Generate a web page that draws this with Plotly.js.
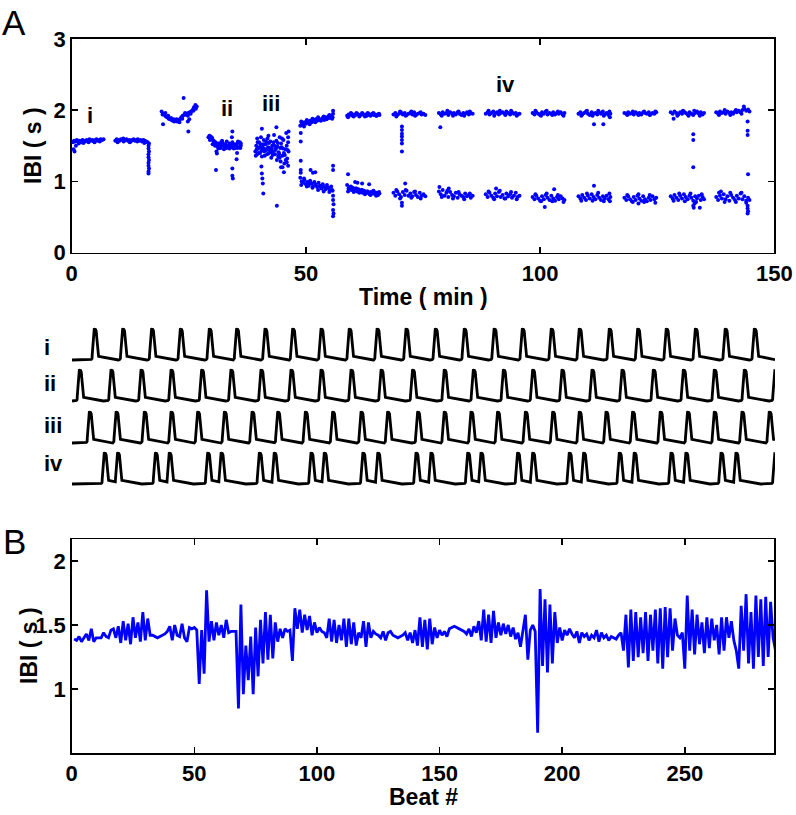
<!DOCTYPE html>
<html><head><meta charset="utf-8">
<script src="https://cdn.plot.ly/plotly-3.0.1.min.js"></script>
<style>html,body{margin:0;padding:0;background:#fff;} #chart{width:796px;height:815px;}</style>
</head><body><div id="chart"></div>
<script>
// ---------- Panel A: IBI (s) vs Time (min), scatter of recording segments ----------
const seg01 = [[0.3,1.55],[0.5,1.57],[0.8,1.56],[1.1,1.58],[1.4,1.56],[1.7,1.57],[2.0,1.55],[2.3,1.58],[2.6,1.57],[2.9,1.56],[3.2,1.58],[3.5,1.57],[3.8,1.59],[4.1,1.57],[4.4,1.58],[4.7,1.56],[5.0,1.58],[5.3,1.59],[5.6,1.57],[5.9,1.58],[6.2,1.59],[6.5,1.58],[6.8,1.59],[0.4,1.45],[0.6,1.42],[0.9,1.50],[1.5,1.53],[2.5,1.54],[3.6,1.55],[4.9,1.55],[6.0,1.56]];
const seg02 = [[9.3,1.57],[9.6,1.59],[9.9,1.58],[10.2,1.57],[10.5,1.59],[10.8,1.58],[11.1,1.56],[11.4,1.58],[11.7,1.59],[12.0,1.57],[12.3,1.58],[12.6,1.56],[12.9,1.58],[13.2,1.59],[13.5,1.57],[13.8,1.58],[14.1,1.59],[14.4,1.57],[14.7,1.58],[15.0,1.56],[15.3,1.58],[15.6,1.57],[15.9,1.56],[16.2,1.55],[16.5,1.53],[9.8,1.55],[11.0,1.60],[12.4,1.55],[14.0,1.56],[15.5,1.54],[16.4,1.50],[16.4,1.46],[16.5,1.42],[16.4,1.38],[16.4,1.34],[16.5,1.30],[16.4,1.26],[16.4,1.22],[16.5,1.18],[16.4,1.14],[16.4,1.11]];
const seg03 = [[19.2,1.98],[19.5,1.95],[19.8,1.93],[20.1,1.91],[20.4,1.90],[20.7,1.88],[21.0,1.87],[21.3,1.86],[21.6,1.85],[21.9,1.84],[22.2,1.85],[22.5,1.84],[22.8,1.86],[23.1,1.87],[23.4,1.90],[23.7,1.92],[24.0,1.93],[24.3,1.94],[24.6,1.95],[24.9,1.96],[25.2,1.97],[25.5,1.98],[25.8,2.00],[26.1,2.04],[26.4,2.07],[26.7,2.05],[19.4,1.94],[20.0,1.96],[20.6,1.92],[21.2,1.89],[21.8,1.87],[22.4,1.87],[23.0,1.83],[23.6,1.88],[24.2,1.96],[24.8,1.92],[25.4,1.95],[26.0,1.99],[26.5,2.02],[19.5,1.80],[23.9,2.17],[24.9,1.70],[24.8,1.84],[25.1,1.87]];
const seg04 = [[29.2,1.62],[29.5,1.61],[29.8,1.60],[30.1,1.58],[30.4,1.55],[30.7,1.52],[31.0,1.50],[31.3,1.53],[31.6,1.48],[31.9,1.51],[32.2,1.54],[32.5,1.49],[32.8,1.52],[33.1,1.47],[33.4,1.50],[33.7,1.53],[34.0,1.49],[34.3,1.51],[34.6,1.46],[34.9,1.52],[35.2,1.50],[35.5,1.54],[35.8,1.48],[36.1,1.50],[29.5,1.58],[30.1,1.52],[30.7,1.55],[31.3,1.46],[31.9,1.55],[32.5,1.45],[33.1,1.56],[33.7,1.46],[34.3,1.55],[34.9,1.47],[35.5,1.56],[36.1,1.53],[30.8,1.16],[30.9,1.42],[31.0,1.39],[34.3,1.70],[34.3,1.18],[34.3,1.08],[34.4,1.04],[34.2,1.62],[35.2,1.31],[35.3,1.40],
  [29.4,1.64],[29.7,1.63],[30.0,1.61],[30.3,1.57],[30.6,1.50],[31.2,1.49],[31.8,1.47],[32.4,1.52],[33.0,1.50],[33.6,1.49],[34.2,1.48],[34.8,1.50],[35.4,1.47],[36.0,1.47],[35.9,1.55],[32.1,1.57]];
const seg05 = [[39.2,1.42],[39.4,1.50],[39.6,1.38],[39.8,1.46],[40.0,1.55],[40.2,1.40],[40.4,1.62],[40.6,1.35],[40.8,1.48],[41.0,1.58],[41.2,1.36],[41.4,1.52],[41.6,1.44],[41.8,1.60],[42.0,1.39],[42.2,1.47],[42.4,1.56],[42.6,1.33],[42.8,1.50],[43.0,1.42],[43.2,1.65],[43.4,1.38],[43.6,1.46],[43.8,1.30],[44.0,1.54],[44.2,1.41],[44.4,1.62],[44.6,1.28],[44.8,1.48],[45.0,1.36],[45.2,1.58],[45.4,1.25],[45.6,1.45],[45.8,1.68],[46.0,1.32],[46.2,1.55],[39.3,1.36],[39.7,1.55],[40.1,1.48],[40.5,1.43],[40.9,1.52],[41.3,1.45],[41.7,1.38],[42.1,1.54],[42.5,1.41],[42.9,1.37],[43.3,1.50],[43.7,1.57],[44.1,1.35],[44.5,1.47],[44.9,1.60],[45.3,1.40],[45.7,1.30],[46.1,1.44],[40.6,1.74],[40.5,1.21],[40.6,1.11],[40.8,0.97],[40.7,1.04],[40.9,0.83],[43.7,1.76],[43.8,0.66],[46.3,1.70],[45.3,1.13],[45.0,1.20],[46.2,1.62],
  [39.5,1.45],[39.9,1.40],[40.3,1.52],[40.7,1.47],[41.1,1.42],[41.5,1.56],[41.9,1.48],[42.3,1.43],[42.7,1.46],[43.1,1.55],[43.5,1.44],[43.9,1.49],[44.3,1.38],[44.7,1.53],[45.1,1.46],[45.5,1.37],[45.9,1.50],[46.3,1.42],[45.9,1.27],[46.2,1.22],[44.7,1.20],[44.4,1.33],[39.6,1.60],[42.0,1.64]];
const seg06 = [[48.8,1.78],[49.1,1.82],[49.4,1.80],[49.7,1.83],[50.0,1.81],[50.3,1.84],[50.6,1.82],[50.9,1.85],[51.2,1.83],[51.5,1.86],[51.8,1.84],[52.1,1.87],[52.4,1.85],[52.7,1.88],[53.0,1.86],[53.3,1.87],[53.6,1.89],[53.9,1.86],[54.2,1.90],[54.5,1.88],[54.8,1.91],[55.1,1.89],[55.4,1.92],[55.7,1.90],[49.0,1.84],[49.6,1.77],[50.2,1.86],[50.8,1.80],[51.4,1.88],[52.0,1.83],[52.6,1.90],[53.2,1.85],[53.8,1.91],[54.4,1.87],[55.0,1.93],[55.6,1.88],[48.9,1.68],[48.9,1.56],[55.8,1.99],[55.8,1.95],
  [48.8,1.05],[49.1,1.00],[49.4,0.98],[49.7,1.02],[50.0,0.96],[50.3,0.99],[50.6,0.94],[50.9,1.01],[51.2,0.97],[51.5,0.93],[51.8,0.99],[52.1,0.95],[52.4,0.92],[52.7,0.98],[53.0,0.94],[53.3,0.90],[53.6,0.96],[53.9,0.92],[54.2,0.89],[54.5,0.95],[54.8,0.91],[55.1,0.88],[55.4,0.93],[55.7,0.87],[49.0,0.95],[49.6,1.04],[50.2,0.93],[50.8,0.97],[51.4,0.91],[52.0,0.96],[52.6,0.88],[53.2,0.93],[53.8,0.86],[54.4,0.91],[55.0,0.85],[55.6,0.88],[48.9,1.29],[48.9,1.16],[48.9,1.12],[51.0,1.16],[51.5,1.12],[55.8,1.22],[55.8,1.16],[55.8,0.80],[55.8,0.74],[55.9,0.68],[55.8,0.60],[55.9,0.55],[55.8,0.51],[52.0,1.13]];
const seg07 = [[58.8,1.92],[59.1,1.94],[59.4,1.93],[59.7,1.95],[60.0,1.92],[60.3,1.94],[60.6,1.93],[60.9,1.95],[61.2,1.94],[61.5,1.92],[61.8,1.94],[62.1,1.95],[62.4,1.93],[62.7,1.94],[63.0,1.92],[63.3,1.95],[63.6,1.93],[63.9,1.94],[64.2,1.95],[64.5,1.93],[64.8,1.94],[65.1,1.92],[65.4,1.94],[65.7,1.93],[59.0,1.90],[59.6,1.96],[60.2,1.91],[60.8,1.96],[61.4,1.91],[62.0,1.96],[62.6,1.91],[63.2,1.96],[63.8,1.92],[64.4,1.96],[65.0,1.92],[65.6,1.95],
  [58.8,0.95],[59.1,0.90],[59.4,0.92],[59.7,0.88],[60.0,0.91],[60.3,0.87],[60.6,0.90],[60.9,0.86],[61.2,0.89],[61.5,0.85],[61.8,0.88],[62.1,0.84],[62.4,0.87],[62.7,0.83],[63.0,0.86],[63.3,0.84],[63.6,0.82],[63.9,0.85],[64.2,0.83],[64.5,0.86],[64.8,0.82],[65.1,0.84],[65.4,0.81],[65.7,0.83],[59.0,0.86],[59.6,0.93],[60.2,0.85],[60.8,0.90],[61.4,0.84],[62.0,0.88],[62.6,0.82],[63.2,0.86],[63.8,0.81],[64.4,0.87],[65.0,0.80],[65.6,0.85],[59.0,1.10],[60.5,0.99],[61.0,0.98],[62.0,0.97],[63.5,0.96]];

// later segments: times, upper-band IBI, lower-band IBI, plus extra points
const seg08_t  = [68.7,69.1,69.5,69.9,70.3,70.7,71.1,71.5,71.9,72.3,72.7,73.1,73.5,73.9,74.3,74.7,75.1,75.5];
const seg08_hi = [1.94,1.96,1.93,1.95,1.97,1.94,1.96,1.93,1.95,1.96,1.94,1.97,1.93,1.95,1.96,1.94,1.95,1.93];
const seg08_lo = [0.84,0.80,0.86,0.82,0.78,0.85,0.81,0.87,0.80,0.83,0.79,0.85,0.81,0.78,0.84,0.80,0.82,0.79];
const seg08_ex = [[69.3,1.91],[70.1,1.98],[71.3,1.92],[72.5,1.98],[73.3,1.92],[74.5,1.97],[70.5,1.77],[70.5,1.72],[70.5,1.67],[70.5,1.63],[70.5,1.58],[70.5,1.53],[70.5,1.42],[69.3,0.88],[70.1,0.76],[71.3,0.88],[72.5,0.77],[73.3,0.86],[74.5,0.76],[70.5,0.70],[70.5,0.66],[71.2,0.97]];
const seg09_t  = [78.4,78.8,79.2,79.6,80.0,80.4,80.8,81.2,81.6,82.0,82.4,82.8,83.2,83.6,84.0,84.4,84.8,85.2,85.6];
const seg09_hi = [1.96,1.94,1.97,1.95,1.96,1.93,1.97,1.95,1.96,1.94,1.97,1.95,1.93,1.96,1.95,1.97,1.94,1.96,1.95];
const seg09_lo = [0.86,0.82,0.88,0.80,0.84,0.78,0.85,0.81,0.79,0.84,0.77,0.82,0.80,0.78,0.83,0.79,0.81,0.77,0.80];
const seg09_ex = [[79.0,1.92],[80.2,1.99],[81.4,1.92],[82.6,1.98],[83.8,1.92],[85.0,1.98],[78.7,1.76],[79.0,0.78],[80.2,0.87],[81.4,0.76],[82.6,0.85],[83.8,0.75],[85.0,0.83],[78.5,0.92],[80.5,0.90]];
const seg10_t  = [88.4,88.8,89.2,89.6,90.0,90.4,90.8,91.2,91.6,92.0,92.4,92.8,93.2,93.6,94.0,94.4,94.8,95.2,95.6];
const seg10_hi = [1.95,1.97,1.94,1.96,1.98,1.95,1.97,1.94,1.96,1.97,1.95,1.98,1.96,1.94,1.97,1.95,1.96,1.94,1.95];
const seg10_lo = [0.82,0.78,0.84,0.80,0.77,0.83,0.79,0.85,0.78,0.81,0.76,0.83,0.79,0.82,0.77,0.80,0.84,0.78,0.80];
const seg10_ex = [[89.0,1.99],[90.2,1.92],[91.4,1.99],[92.6,1.93],[93.8,1.99],[95.0,1.92],[89.0,0.86],[90.2,0.75],[91.4,0.87],[92.6,0.76],[93.8,0.85],[95.0,0.75],[90.6,0.90]];
const seg11_t  = [98.4,98.8,99.2,99.6,100.0,100.4,100.8,101.2,101.6,102.0,102.4,102.8,103.2,103.6,104.0,104.4,104.8,105.2];
const seg11_hi = [1.96,1.94,1.97,1.95,1.93,1.97,1.95,1.98,1.94,1.96,1.95,1.97,1.94,1.96,1.95,1.97,1.94,1.96];
const seg11_lo = [0.78,0.75,0.80,0.76,0.73,0.79,0.75,0.81,0.77,0.74,0.80,0.76,0.73,0.78,0.75,0.79,0.76,0.74];
const seg11_ex = [[99.0,1.99],[100.2,1.92],[101.4,1.99],[102.6,1.93],[103.8,1.98],[105.0,1.92],[99.0,0.82],[100.2,0.72],[101.4,0.83],[102.6,0.72],[103.8,0.81],[105.0,0.71],[101.0,0.64],[103.0,0.89]];
const seg12_t  = [108.2,108.6,109.0,109.4,109.8,110.2,110.6,111.0,111.4,111.8,112.2,112.6,113.0,113.4,113.8,114.2,114.6,115.0];
const seg12_hi = [1.95,1.97,1.94,1.96,1.98,1.95,1.93,1.97,1.95,1.96,1.94,1.97,1.95,1.98,1.94,1.96,1.93,1.95];
const seg12_lo = [0.79,0.76,0.81,0.77,0.74,0.80,0.76,0.82,0.78,0.75,0.81,0.77,0.74,0.79,0.76,0.80,0.75,0.78];
const seg12_ex = [[108.8,1.92],[110.0,1.99],[111.2,1.92],[112.4,1.99],[113.6,1.92],[114.8,1.98],[111.5,1.80],[113.5,1.80],[114.9,1.90],[108.8,0.73],[110.0,0.83],[111.2,0.73],[112.4,0.84],[113.6,0.72],[114.8,0.83],[111.5,0.94],[114.9,0.72]];
const seg13_t  = [118.0,118.4,118.8,119.2,119.6,120.0,120.4,120.8,121.2,121.6,122.0,122.4,122.8,123.2,123.6,124.0,124.4,124.8];
const seg13_hi = [1.96,1.95,1.97,1.95,1.96,1.94,1.97,1.95,1.96,1.94,1.97,1.96,1.95,1.97,1.94,1.96,1.95,1.97];
const seg13_lo = [0.77,0.74,0.79,0.75,0.72,0.78,0.74,0.80,0.76,0.73,0.79,0.75,0.72,0.77,0.74,0.79,0.75,0.77];
const seg13_ex = [[118.6,1.93],[119.8,1.98],[121.0,1.93],[122.2,1.98],[123.4,1.93],[124.6,1.98],[118.6,0.81],[119.8,0.71],[121.0,0.82],[122.2,0.71],[123.4,0.81],[124.6,0.70],[121.0,0.69]];
const seg14_t  = [127.9,128.3,128.7,129.1,129.5,129.9,130.3,130.7,131.1,131.5,131.9,132.3,132.7,133.1,133.5,133.9,134.3,134.7,135.0];
const seg14_hi = [1.97,1.95,1.98,1.96,1.94,1.97,1.95,1.98,1.96,1.94,1.97,1.95,1.93,1.96,1.98,1.95,1.97,1.94,1.96];
const seg14_lo = [0.79,0.76,0.81,0.77,0.74,0.80,0.76,0.82,0.78,0.75,0.80,0.77,0.73,0.79,0.76,0.80,0.74,0.78,0.75];
const seg14_ex = [[128.5,1.88],[129.3,1.92],[130.5,1.99],[131.7,1.92],[132.9,1.99],[134.1,1.92],[132.7,1.66],[132.7,1.58],[132.7,1.20],[128.5,0.73],[129.7,0.83],[130.9,0.72],[132.1,0.83],[133.3,0.71],[134.5,0.82],[132.7,0.66],[132.8,0.63],[134.1,0.63],[133.0,0.69]];
const seg15_t  = [137.6,138.0,138.4,138.8,139.2,139.6,140.0,140.4,140.8,141.2,141.6,142.0,142.4,142.8,143.2,143.6,144.0,144.4,144.7];
const seg15_hi = [1.97,1.95,1.98,1.96,1.97,1.95,1.98,1.96,1.97,1.95,1.98,1.97,1.99,1.97,2.00,2.02,1.99,2.01,1.98];
const seg15_lo = [0.78,0.74,0.80,0.76,0.82,0.75,0.79,0.73,0.81,0.77,0.74,0.80,0.76,0.83,0.75,0.79,0.73,0.77,0.74];
const seg15_ex = [[138.2,1.93],[139.4,2.00],[140.6,1.93],[141.8,2.00],[143.0,1.95],[143.5,2.05],[144.3,1.84],[144.3,1.71],[144.3,1.65],[144.4,1.10],[138.2,0.84],[139.4,0.71],[140.6,0.84],[141.8,0.71],[143.0,0.84],[144.0,0.70],[144.3,0.66],[144.3,0.62],[144.4,0.58],[144.3,0.55],[138.6,0.86]];

const labelsA = [{t:'i',x:3.9,y:1.92},{t:'ii',x:33.1,y:2.02},{t:'iii',x:42.5,y:2.09},{t:'iv',x:92.7,y:2.36}];

// ---------- Middle: example traces (peak times in seconds) ----------
const traceNames = ['i','ii','iii','iv'];
const peaks_i   = [1.26,2.82,4.41,5.99,7.58,9.08,10.64,12.16,13.72,15.27,16.80,18.39,20.00,21.59,23.23,24.78,26.37,27.91,29.56,31.12,32.69,34.29,35.93,37.53];
const peaks_ii  = [0.44,2.18,3.83,5.48,7.16,8.77,10.42,12.07,13.72,15.37,17.02,18.75,20.49,22.09,23.74,25.35,26.96,28.61,30.26,31.98,33.63,35.33,36.98,38.66];
const peaks_iii = [0.99,2.46,4.01,5.48,6.94,8.41,9.93,11.34,12.86,14.36,15.92,17.38,19.03,20.49,21.96,23.42,24.95,26.45,27.91,29.38,30.84,32.36,33.86,35.33,36.85,38.35];
const peaks_iv  = [1.81,2.54,4.62,5.38,7.49,8.23,10.33,11.15,13.17,13.90,16.02,16.84,18.94,19.76,21.78,22.51,24.52,25.35,27.36,28.15,30.11,30.93,32.95,33.77,35.70,36.52,38.66];

// ---------- Panel B: IBI (s) vs Beat # ----------
const ibiB = [
 1.39,1.38,1.41,1.37,1.40,1.43,1.38,1.47,1.37,1.40,
 1.40,1.40,1.44,1.41,1.40,1.46,1.47,1.40,1.49,1.36,
 1.53,1.38,1.51,1.35,1.56,1.40,1.52,1.37,1.60,1.38,
 1.55,1.42,1.42,1.41,1.40,1.41,1.42,1.43,1.45,1.49,
 1.38,1.50,1.42,1.41,1.51,1.40,1.37,1.48,1.47,1.48,
 1.46,1.04,1.46,1.12,1.77,1.37,1.53,1.38,1.52,1.42,
 1.50,1.40,1.54,1.44,1.45,1.45,1.45,0.85,1.66,0.96,
 1.34,1.07,1.41,0.96,1.48,1.10,1.54,1.20,1.60,1.23,
 1.58,1.24,1.52,1.37,1.47,1.40,1.47,1.45,1.46,1.22,
 1.63,1.47,1.62,1.44,1.58,1.46,1.57,1.42,1.52,1.44,
 1.48,1.45,1.44,1.40,1.55,1.37,1.54,1.36,1.50,1.38,
 1.55,1.33,1.55,1.35,1.52,1.34,1.44,1.40,1.53,1.33,
 1.52,1.40,1.45,1.43,1.42,1.40,1.45,1.38,1.44,1.45,
 1.42,1.41,1.40,1.41,1.42,1.44,1.38,1.44,1.36,1.46,
 1.34,1.56,1.33,1.54,1.31,1.55,1.35,1.48,1.40,1.46,
 1.42,1.45,1.41,1.47,1.48,1.49,1.48,1.47,1.46,1.45,
 1.43,1.47,1.41,1.49,1.44,1.53,1.38,1.62,1.37,1.58,
 1.36,1.61,1.40,1.52,1.42,1.51,1.43,1.50,1.41,1.48,
 1.39,1.44,1.33,1.46,1.58,1.23,1.46,1.50,1.45,0.66,
 1.78,1.18,1.70,1.13,1.66,1.20,1.60,1.36,1.48,1.38,
 1.46,1.42,1.47,1.43,1.40,1.45,1.36,1.44,1.41,1.43,
 1.38,1.42,1.40,1.46,1.37,1.44,1.40,1.42,1.38,1.41,
 1.40,1.39,1.42,1.44,1.30,1.58,1.17,1.62,1.22,1.60,
 1.25,1.56,1.28,1.60,1.22,1.58,1.30,1.62,1.20,1.63,
 1.16,1.64,1.25,1.63,1.30,1.55,1.42,1.40,1.44,1.16,
 1.73,1.30,1.62,1.27,1.58,1.35,1.52,1.28,1.56,1.32,
 1.55,1.38,1.50,1.27,1.56,1.30,1.56,1.40,1.53,1.38,
 1.30,1.16,1.65,1.30,1.74,1.20,1.60,1.16,1.73,1.25,
 1.70,1.18,1.72,1.25,1.68,1.40,1.30];
const beatB = ibiB.map((v,i)=>i+1);

// ---------- build ----------
const sx=[], sy=[];
[seg01,seg02,seg03,seg04,seg05,seg06,seg07].forEach(a=>a.forEach(p=>{sx.push(p[0]);sy.push(p[1]);}));
[[seg08_t,seg08_hi,seg08_lo,seg08_ex],[seg09_t,seg09_hi,seg09_lo,seg09_ex],[seg10_t,seg10_hi,seg10_lo,seg10_ex],
 [seg11_t,seg11_hi,seg11_lo,seg11_ex],[seg12_t,seg12_hi,seg12_lo,seg12_ex],[seg13_t,seg13_hi,seg13_lo,seg13_ex],
 [seg14_t,seg14_hi,seg14_lo,seg14_ex],[seg15_t,seg15_hi,seg15_lo,seg15_ex]].forEach(s=>{
  const [t,hi,lo,ex]=s; const n=Math.min(t.length,hi.length,lo.length);
  for(let j=0;j<n;j++){sx.push(t[j]);sy.push(hi[j]);sx.push(t[j]);sy.push(lo[j]);}
  ex.forEach(p=>{sx.push(p[0]);sy.push(p[1]);});
});

// pulse shape (drawing style for each recorded beat)
const shape = [[-0.22,0],[-0.16,0.05],[-0.12,0.5],[-0.08,0.88],[-0.04,0.99],[0.02,1.0],[0.07,0.93],[0.11,0.6],[0.15,0.22],[0.20,0.12],[0.35,0.10],[0.80,0.04],[1.20,0]];
function shapeAt(d){
  if(d<=shape[0][0]||d>=shape[shape.length-1][0]) return 0;
  for(let k=1;k<shape.length;k++){ if(d<=shape[k][0]){const a=shape[k-1],b=shape[k];return a[1]+(b[1]-a[1])*(d-a[0])/(b[0]-a[0]);}}
  return 0;
}
const T_END = 38.63;
function wave(peaks){
  const xs=[],ys=[];
  for(let i=0;i<=3863;i++){const t=i*0.01; let v=0; peaks.forEach(p=>{const s=shapeAt(t-p); if(s>v)v=s;}); xs.push(t); ys.push(v);}
  return {xs,ys};
}

const FAM = 'Liberation Sans, Arial, sans-serif';
const axFont = {family:FAM, size:22, color:'#000', weight:'bold'};
const data = [
  {type:'scatter', mode:'markers', x:sx, y:sy, xaxis:'x', yaxis:'y', marker:{color:'#0000ff', size:4}, hoverinfo:'skip'},
  {type:'scatter', mode:'lines', x:beatB, y:ibiB, xaxis:'x2', yaxis:'y2', line:{color:'#0000ff', width:2.8}, hoverinfo:'skip'}
];
[peaks_i,peaks_ii,peaks_iii,peaks_iv].forEach((pk,k)=>{
  const w=wave(pk);
  data.push({type:'scatter',mode:'lines',x:w.xs,y:w.ys,xaxis:'x3',yaxis:'y'+(3+k),line:{color:'#000',width:2.8},hoverinfo:'skip'});
});

function axisBase(extra){ return Object.assign({showgrid:false, zeroline:false, showline:true, linecolor:'#000', linewidth:1.5, mirror:'ticks',
  ticks:'inside', ticklen:6, tickwidth:1.5, tickcolor:'#000', tickfont:axFont, fixedrange:true}, extra); }

const W=796,H=815;
const px=v=>v/W, py=v=>1-v/H;
const traceDom = [[366.2,322.8],[407.2,363.8],[449.2,405.8],[490.2,446.8]];
const layout = {
  width:W, height:H, margin:{l:0,r:0,t:0,b:0}, paper_bgcolor:'#fff', plot_bgcolor:'rgba(0,0,0,0)', showlegend:false,
  xaxis: axisBase({domain:[px(71.7),px(774.3)], range:[0,150], tickvals:[0,50,100,150], anchor:'y'}),
  yaxis: axisBase({domain:[py(252.7),py(38.8)], range:[0,3], tickvals:[0,1,2,3], anchor:'x'}),
  xaxis2: axisBase({domain:[px(71.7),px(774.3)], range:[0,286.5], tickvals:[0,50,100,150,200,250], anchor:'y2'}),
  yaxis2: axisBase({domain:[py(753.3),py(539)], range:[0.5,2.17], tickvals:[1,1.5,2], anchor:'x2'}),
  xaxis3: {domain:[px(72),px(775)], range:[0,T_END], visible:false, anchor:'y3', fixedrange:true},
  annotations: []
};
traceDom.forEach((d,k)=>{ layout['yaxis'+(3+k)] = {domain:[py(d[0]),py(d[1])], range:[-0.2,1.2], visible:false, anchor:'x3', fixedrange:true}; });

const txt = (text,x,y,opt)=>Object.assign({text, x, y, xref:'paper', yref:'paper', showarrow:false, xanchor:'center', yanchor:'middle',
  font:{family:FAM, size:23, color:'#000', weight:'bold'}}, opt||{});
layout.annotations.push(txt('Time ( min )', px(423), py(297)));
layout.annotations.push(txt('Beat #', px(423), py(797)));
layout.annotations.push(txt('IBI ( s )', px(33), py(146), {textangle:-90}));
layout.annotations.push(txt('IBI ( s )', px(29), py(646), {textangle:-90}));
layout.annotations.push(txt('A', px(14), py(23), {font:{family:FAM, size:35, color:'#000'}}));
layout.annotations.push(txt('B', px(14), py(541), {font:{family:FAM, size:35, color:'#000'}}));
labelsA.forEach(l=>layout.annotations.push(txt(l.t, l.x, l.y, {xref:'x', yref:'y', font:{family:FAM, size:22, color:'#000', weight:'bold'}})));
const midY=[347,384,425,463];
traceNames.forEach((n,k)=>layout.annotations.push(txt(n, px(42), py(midY[k]), {xanchor:'left', font:{family:FAM, size:22, color:'#000', weight:'bold'}})));

Plotly.newPlot('chart', data, layout, {displayModeBar:false, staticPlot:true});
</script></body></html>
